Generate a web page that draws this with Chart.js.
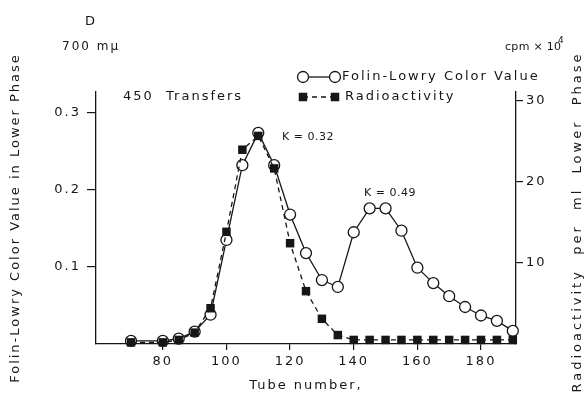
<!DOCTYPE html>
<html>
<head>
<meta charset="utf-8">
<script src="https://cdn.jsdelivr.net/npm/chart.js@4.4.1/dist/chart.umd.min.js"></script>
<style>
	html, body { margin: 0; padding: 0; background: #fff; }
	#wrap { width: 586px; height: 395px; position: relative; }
</style>
</head>
<body>
<div id="wrap"><canvas id="chart"></canvas></div>
<script>
// --- Data ---
const tubes = [70, 80, 85, 90, 95, 100, 105, 110, 115, 120, 125, 130, 135, 140, 145, 150, 155, 160, 165, 170, 175, 180, 185, 190];
// Folin-Lowry colour value (left axis, 700 mu)
const folinValues = [0.004, 0.004, 0.007, 0.016, 0.038, 0.135, 0.232, 0.274, 0.232, 0.168, 0.118, 0.083, 0.074, 0.145, 0.176, 0.176, 0.147, 0.099, 0.079, 0.062, 0.048, 0.037, 0.03, 0.017];
// Radioactivity, cpm x 10^4 (right axis)
const radioValues = [0.2, 0.2, 0.5, 1.4, 4.4, 13.8, 23.9, 25.6, 21.6, 12.4, 6.5, 3.1, 1.1, 0.5, 0.5, 0.5, 0.5, 0.5, 0.5, 0.5, 0.5, 0.5, 0.5, 0.5];

const xTicks = [80, 100, 120, 140, 160, 180];
const leftTicks = [0.1, 0.2, 0.3];
const rightTicks = [10, 20, 30];

const ink = "#161616";
const family = "'DejaVu Sans', sans-serif";
const tickFont = { family: family, size: 13 };

// wide lettering like the original
const spacingPlugin = {
	id: "spacing",
	beforeLayout(chart) { chart.ctx.letterSpacing = "2px"; },
	beforeDraw(chart) { chart.ctx.letterSpacing = "2px"; },
};

function drawText(ctx, text, x, y, size, spacing, align) {
	ctx.save();
	ctx.font = size + "px " + family;
	ctx.letterSpacing = spacing + "px";
	ctx.fillStyle = ink;
	ctx.textAlign = align || "left";
	ctx.textBaseline = "middle";
	ctx.fillText(text, x, y);
	ctx.restore();
}

// labels, legend and right axis title
const notesPlugin = {
	id: "notes",
	afterDraw(chart) {
		const ctx = chart.ctx;
		drawText(ctx, "D", 90, 22, 13, 0, "center");
		drawText(ctx, "700 m\u03bc", 62, 47, 12, 2);
		drawText(ctx, "450  Transfers", 123, 97, 13, 2);
		drawText(ctx, "K = 0.32", 282, 137, 11, 0.5);
		drawText(ctx, "K = 0.49", 364, 193, 11, 0.5);
		drawText(ctx, "cpm \u00d7 10", 505, 47, 11, 0.3);
		drawText(ctx, "4", 558, 41, 9, 0);

		// legend
		ctx.save();
		ctx.strokeStyle = ink;
		ctx.lineWidth = 1.3;
		ctx.beginPath();
		ctx.moveTo(303, 77);
		ctx.lineTo(335, 77);
		ctx.stroke();
		[303, 335].forEach(function (cx) {
			ctx.beginPath();
			ctx.arc(cx, 77, 5.5, 0, Math.PI * 2);
			ctx.fillStyle = "#fff";
			ctx.fill();
			ctx.stroke();
		});
		ctx.setLineDash([5, 4]);
		ctx.beginPath();
		ctx.moveTo(303, 97);
		ctx.lineTo(335, 97);
		ctx.stroke();
		ctx.setLineDash([]);
		ctx.fillStyle = ink;
		[303, 335].forEach(function (cx) {
			ctx.fillRect(cx - 4.25, 97 - 4.25, 8.5, 8.5);
		});
		ctx.restore();
		drawText(ctx, "Folin-Lowry Color Value", 342, 77, 13, 2);
		drawText(ctx, "Radioactivity", 345, 97, 13, 2);

		// right axis title reads bottom to top
		ctx.save();
		ctx.translate(578, 222);
		ctx.rotate(-Math.PI / 2);
		drawText(ctx, "Radioactivity  per  ml  Lower  Phase", 0, 0, 13, 3, "center");
		ctx.restore();
	},
};

const ctx = document.getElementById("chart");
new Chart(ctx, {
	type: "line",
	data: {
		datasets: [
			{
				label: "Radioactivity",
				data: tubes.map((t, i) => ({ x: t, y: radioValues[i] })),
				yAxisID: "y1",
				order: 0,
				borderColor: ink,
				borderWidth: 1.3,
				borderDash: [5, 4],
				pointStyle: "rect",
				pointRadius: 6,
				pointBackgroundColor: ink,
				pointBorderColor: ink,
				pointBorderWidth: 0,
				tension: 0,
				clip: false,
			},
			{
				label: "Folin-Lowry Color Value",
				data: tubes.map((t, i) => ({ x: t, y: folinValues[i] })),
				yAxisID: "y",
				order: 1,
				borderColor: ink,
				borderWidth: 1.3,
				pointStyle: "circle",
				pointRadius: 5.5,
				pointBackgroundColor: "#fff",
				pointBorderColor: ink,
				pointBorderWidth: 1.3,
				tension: 0,
				clip: false,
			},
		],
	},
	options: {
		responsive: true,
		maintainAspectRatio: false,
		animation: false,
		devicePixelRatio: 1,
		layout: { padding: { top: 92, left: 0, right: 0, bottom: 0 } },
		plugins: {
			legend: { display: false },
			tooltip: { enabled: false },
		},
		scales: {
			x: {
				type: "linear",
				min: 59,
				max: 191,
				afterBuildTicks: (s) => { s.ticks = xTicks.map((v) => ({ value: v })); },
				afterFit: (s) => { s.height = 51; },
				border: { display: true, color: ink, width: 1.3 },
				grid: { drawOnChartArea: false, drawTicks: true, tickLength: 6, color: ink, lineWidth: 1.2 },
				ticks: { color: ink, font: tickFont, padding: 4, maxRotation: 0 },
				title: { display: true, text: "Tube number,", color: ink, font: tickFont, padding: { top: 0, bottom: 2 } },
			},
			y: {
				position: "left",
				min: 0,
				max: 0.327,
				afterBuildTicks: (s) => { s.ticks = leftTicks.map((v) => ({ value: v })); },
				afterFit: (s) => { s.width = 96; },
				border: { display: true, color: ink, width: 1.3 },
				grid: { drawOnChartArea: false, drawTicks: true, tickLength: 9, color: ink, lineWidth: 1.2 },
				ticks: { color: ink, font: tickFont, padding: 6, callback: (v) => v.toFixed(1) },
				title: { display: true, text: "Folin-Lowry Color Value in Lower Phase", color: ink, font: tickFont, padding: { top: 8, bottom: 0 } },
			},
			y1: {
				position: "right",
				min: 0,
				max: 31,
				afterBuildTicks: (s) => { s.ticks = rightTicks.map((v) => ({ value: v })); },
				afterFit: (s) => { s.width = 70; },
				border: { display: true, color: ink, width: 1.3 },
				grid: { drawOnChartArea: false, drawTicks: true, tickLength: 7, color: ink, lineWidth: 1.2 },
				ticks: { color: ink, font: tickFont, padding: 3 },
			},
		},
	},
	plugins: [spacingPlugin, notesPlugin],
});
</script>
</body>
</html>
